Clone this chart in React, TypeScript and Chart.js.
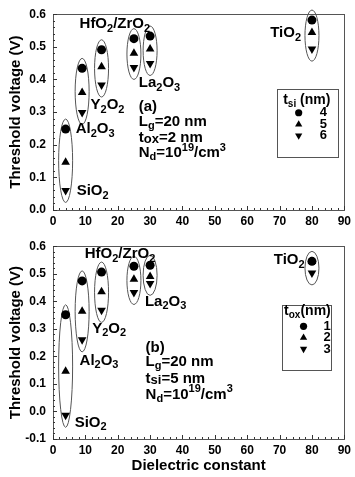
import React, { useEffect, useRef } from "react";
import { Chart, registerables } from "chart.js";
Chart.register(...registerables);

// ---------- data ----------
const dielectricK = [3.9, 9, 15, 25, 30, 80]; // SiO2, Al2O3, Y2O3, HfO2, ZrO2, TiO2

// (a) tox = 2 nm, varying t_si
const vtTsi4 = [0.248, 0.434, 0.491, 0.525, 0.533, 0.582];
const vtTsi5 = [0.146, 0.36, 0.439, 0.48, 0.493, 0.544];
const vtTsi6 = [0.06, 0.299, 0.383, 0.437, 0.449, 0.493];

// (b) tsi = 5 nm, varying t_ox
const vtTox1 = [0.351, 0.474, 0.506, 0.527, 0.531, 0.545];
const vtTox2 = [0.146, 0.364, 0.435, 0.48, 0.49, 0.544];
const vtTox3 = [-0.014, 0.26, 0.367, 0.432, 0.465, 0.503];

const topLegendLabels = ["4", "5", "6"];
const bottomLegendLabels = ["1", "2", "3"];

const FONT = '"Liberation Sans", Arial, Helvetica, sans-serif';

type Seg = [string, number]; // 0 normal, 1 subscript, 2 superscript, 3 small inline
type Note = { segs: Seg[]; k: number; v: number; align?: "left" | "center" };

const topNotes: Note[] = [
  { segs: [["HfO", 0], ["2", 1], ["/ZrO", 0], ["2", 1]], k: 8.2, v: 0.569 },
  { segs: [["TiO", 0], ["2", 1]], k: 67.1, v: 0.542 },
  { segs: [["La", 0], ["2", 1], ["O", 0], ["3", 1]], k: 26.5, v: 0.389 },
  { segs: [["Y", 0], ["2", 1], ["O", 0], ["2", 1]], k: 11.6, v: 0.321 },
  { segs: [["Al", 0], ["2", 1], ["O", 0], ["3", 1]], k: 7.0, v: 0.248 },
  { segs: [["SiO", 0], ["2", 1]], k: 7.3, v: 0.058 },
  { segs: [["(a)", 0]], k: 26.5, v: 0.316 },
  { segs: [["L", 0], ["g", 1], ["=20 nm", 0]], k: 26.5, v: 0.27 },
  { segs: [["t", 0], ["ox", 3], ["=2 nm", 0]], k: 26.5, v: 0.222 },
  { segs: [["N", 0], ["d", 1], ["=10", 0], ["19", 2], ["/cm", 0], ["3", 2]], k: 26.5, v: 0.175 },
];

const bottomNotes: Note[] = [
  { segs: [["HfO", 0], ["2", 1], ["/ZrO", 0], ["2", 1]], k: 9.8, v: 0.571 },
  { segs: [["TiO", 0], ["2", 1]], k: 68.2, v: 0.55 },
  { segs: [["La", 0], ["2", 1], ["O", 0], ["3", 1]], k: 28.4, v: 0.399 },
  { segs: [["Y", 0], ["2", 1], ["O", 0], ["2", 1]], k: 12.1, v: 0.301 },
  { segs: [["Al", 0], ["2", 1], ["O", 0], ["3", 1]], k: 8.2, v: 0.184 },
  { segs: [["SiO", 0], ["2", 1]], k: 6.7, v: -0.041 },
  { segs: [["(b)", 0]], k: 28.6, v: 0.231 },
  { segs: [["L", 0], ["g", 1], ["=20 nm", 0]], k: 28.6, v: 0.18 },
  { segs: [["t", 0], ["si", 3], ["=5 nm", 0]], k: 28.6, v: 0.119 },
  { segs: [["N", 0], ["d", 1], ["=10", 0], ["19", 2], ["/cm", 0], ["3", 2]], k: 28.6, v: 0.062 },
];

type LegendCfg = {
  title: Seg[];
  labels: string[];
  box: [number, number, number, number]; // k0, v0, k1, v1
  titleAt: [number, number];
  rowsV: number[];
  symK: number;
  numK: number;
};

const topLegend: LegendCfg = {
  title: [["t", 0], ["si", 1], [" (nm)", 0]],
  labels: topLegendLabels,
  box: [69.2, 0.37, 87.9, 0.162],
  titleAt: [78.4, 0.337],
  rowsV: [0.298, 0.262, 0.228],
  symK: 75.9,
  numK: 83.5,
};

const bottomLegend: LegendCfg = {
  title: [["t", 0], ["ox", 1], ["(nm)", 0]],
  labels: bottomLegendLabels,
  box: [70.8, 0.388, 85.9, 0.151],
  titleAt: [78.6, 0.363],
  rowsV: [0.309, 0.268, 0.227],
  symK: 77.4,
  numK: 84.7,
};

// ---------- drawing helpers ----------
function segFont(kind: number, size: number) {
  const s = kind === 0 ? size : kind === 3 ? Math.round(size * 0.85) : Math.round(size * 0.7);
  return `bold ${s}px ${FONT}`;
}

function drawRich(ctx: CanvasRenderingContext2D, segs: Seg[], x: number, y: number, size: number, align: string) {
  let w = 0;
  for (const [t, k] of segs) {
    ctx.font = segFont(k, size);
    w += ctx.measureText(t).width;
  }
  let cx = align === "center" ? x - w / 2 : x;
  ctx.textBaseline = "middle";
  ctx.textAlign = "left";
  ctx.fillStyle = "#000";
  for (const [t, k] of segs) {
    ctx.font = segFont(k, size);
    const dy = k === 1 ? size * 0.3 : k === 2 ? -size * 0.35 : k === 3 ? size * 0.12 : 0;
    ctx.fillText(t, cx, y + dy);
    cx += ctx.measureText(t).width;
  }
}

function drawMarker(ctx: CanvasRenderingContext2D, style: number, x: number, y: number) {
  ctx.fillStyle = "#000";
  ctx.beginPath();
  if (style === 0) {
    ctx.arc(x, y, 3.6, 0, Math.PI * 2);
  } else {
    const r = 4.2;
    let rad = style === 2 ? Math.PI : 0;
    for (let i = 0; i < 3; i++) {
      const px = x + Math.sin(rad) * r;
      const py = y - Math.cos(rad) * r;
      if (i === 0) ctx.moveTo(px, py);
      else ctx.lineTo(px, py);
      rad += (2 * Math.PI) / 3;
    }
    ctx.closePath();
  }
  ctx.fill();
}

function makeDatasets(a: number[], b: number[], c: number[], labels: string[]) {
  const pts = (vals: number[]) => dielectricK.map((x, i) => ({ x, y: vals[i] }));
  const base = { showLine: false, backgroundColor: "#000", borderColor: "#000", borderWidth: 0 };
  return [
    { ...base, label: labels[0], data: pts(a), pointStyle: "circle", pointRadius: 4.5 },
    { ...base, label: labels[1], data: pts(b), pointStyle: "triangle", pointRadius: 5 },
    { ...base, label: labels[2], data: pts(c), pointStyle: "triangle", pointRotation: 180, pointRadius: 5 },
  ];
}

type PanelProps = {
  top: number;
  height: number;
  yMin: number;
  yMax: number;
  series: [number[], number[], number[]];
  notes: Note[];
  legend: LegendCfg;
  areaTop: number;
  xScaleHeight: number;
  xTitle: string | null;
};

function Panel(p: PanelProps) {
  const ref = useRef<HTMLCanvasElement | null>(null);
  useEffect(() => {
    const canvas = ref.current;
    if (!canvas) return;

    const decorPlugin = {
      id: "decor",
      beforeDatasetsDraw(chart: any) {
        const ctx = chart.ctx as CanvasRenderingContext2D;
        const xs = chart.scales.x;
        const ys = chart.scales.y;
        ctx.save();
        ctx.strokeStyle = "#555";
        ctx.lineWidth = 1;
        dielectricK.forEach((k, i) => {
          const vals = p.series.map((s) => s[i]);
          const yTop = ys.getPixelForValue(Math.max(...vals)) - 10;
          const yBot = ys.getPixelForValue(Math.min(...vals)) + 12;
          const cx = xs.getPixelForValue(k);
          ctx.beginPath();
          ctx.ellipse(cx, (yTop + yBot) / 2, 7, (yBot - yTop) / 2, 0, 0, Math.PI * 2);
          ctx.stroke();
        });
        ctx.restore();
      },
      afterDraw(chart: any) {
        const ctx = chart.ctx as CanvasRenderingContext2D;
        const xs = chart.scales.x;
        const ys = chart.scales.y;
        const a = chart.chartArea;
        ctx.save();
        ctx.strokeStyle = "#555";
        ctx.lineWidth = 1;
        ctx.strokeRect(Math.round(a.left) + 0.5, Math.round(a.top) + 0.5, Math.round(a.right - a.left), Math.round(a.bottom - a.top));
        ctx.strokeStyle = "#333";
        ctx.beginPath();
        for (let v = 0; v <= 90; v += 2) {
          const px = Math.round(xs.getPixelForValue(v)) + 0.5;
          const len = v % 10 === 0 ? 4 : 2;
          ctx.moveTo(px, a.bottom);
          ctx.lineTo(px, a.bottom - len);
        }
        const i0 = Math.round(p.yMin / 0.02);
        const i1 = Math.round(p.yMax / 0.02);
        for (let i = i0; i <= i1; i++) {
          const py = Math.round(ys.getPixelForValue(i * 0.02)) + 0.5;
          const len = i % 5 === 0 ? 4 : 2;
          ctx.moveTo(a.left, py);
          ctx.lineTo(a.left + len, py);
        }
        ctx.stroke();
        for (const n of p.notes) {
          drawRich(ctx, n.segs, xs.getPixelForValue(n.k), ys.getPixelForValue(n.v), 15, n.align || "left");
        }
        const L = p.legend;
        const bx0 = Math.round(xs.getPixelForValue(L.box[0])) + 0.5;
        const by0 = Math.round(ys.getPixelForValue(L.box[1])) + 0.5;
        const bx1 = Math.round(xs.getPixelForValue(L.box[2])) + 0.5;
        const by1 = Math.round(ys.getPixelForValue(L.box[3])) + 0.5;
        ctx.strokeStyle = "#555";
        ctx.strokeRect(bx0, by0, bx1 - bx0, by1 - by0);
        drawRich(ctx, L.title, xs.getPixelForValue(L.titleAt[0]), ys.getPixelForValue(L.titleAt[1]), 14, "center");
        L.labels.forEach((lab, i) => {
          const py = ys.getPixelForValue(L.rowsV[i]);
          drawMarker(ctx, i, xs.getPixelForValue(L.symK), py);
          drawRich(ctx, [[lab, 0]], xs.getPixelForValue(L.numK), py, 13, "center");
        });
        ctx.restore();
      },
    };

    const tickFont = { family: FONT, size: 12, weight: "bold" as const };
    const chart = new Chart(canvas, {
      type: "scatter",
      data: { datasets: makeDatasets(p.series[0], p.series[1], p.series[2], p.legend.labels) as any },
      options: {
        animation: false,
        responsive: false,
        devicePixelRatio: 1,
        layout: { padding: { top: p.areaTop, right: 7, bottom: 0, left: 0 } },
        plugins: { legend: { display: false }, tooltip: { enabled: false } },
        scales: {
          x: {
            type: "linear",
            min: 0,
            max: 90,
            grid: { display: false, drawTicks: false },
            border: { display: false },
            ticks: { stepSize: 10, font: tickFont, color: "#000", padding: 4, maxRotation: 0, autoSkip: false },
            title: p.xTitle
              ? { display: true, text: p.xTitle, color: "#000", font: { family: FONT, size: 15, weight: "bold" }, padding: { top: 0, bottom: 2 } }
              : { display: false },
            afterFit: (s: any) => {
              s.height = p.xScaleHeight;
            },
          },
          y: {
            type: "linear",
            min: p.yMin,
            max: p.yMax,
            grid: { display: false, drawTicks: false },
            border: { display: false },
            ticks: {
              stepSize: 0.1,
              font: tickFont,
              color: "#000",
              padding: 7,
              callback: (v: any) => (Math.abs(Number(v)) < 1e-9 ? "0.0" : Number(v).toFixed(1)),
            },
            title: {
              display: true,
              text: "Threshold voltage (V)",
              color: "#000",
              font: { family: FONT, size: 15, weight: "bold" },
              padding: { top: 7, bottom: 0 },
            },
            afterFit: (s: any) => {
              s.width = 53;
            },
          },
        },
      } as any,
      plugins: [decorPlugin],
    });
    return () => chart.destroy();
  }, []);

  return (
    <canvas
      ref={ref}
      width={355}
      height={p.height}
      style={{ position: "absolute", left: 0, top: p.top, width: 355, height: p.height, display: "block" }}
    />
  );
}

export default function App() {
  return (
    <div style={{ position: "absolute", left: 0, top: 0, width: 355, height: 477, background: "#fff", overflow: "hidden" }}>
      <Panel
        top={0}
        height={232}
        yMin={0}
        yMax={0.6}
        series={[vtTsi4, vtTsi5, vtTsi6]}
        notes={topNotes}
        legend={topLegend}
        areaTop={14}
        xScaleHeight={22}
        xTitle={null}
      />
      <Panel
        top={232}
        height={245}
        yMin={-0.1}
        yMax={0.6}
        series={[vtTox1, vtTox2, vtTox3]}
        notes={bottomNotes}
        legend={bottomLegend}
        areaTop={12}
        xScaleHeight={38}
        xTitle="Dielectric constant"
      />
    </div>
  );
}
